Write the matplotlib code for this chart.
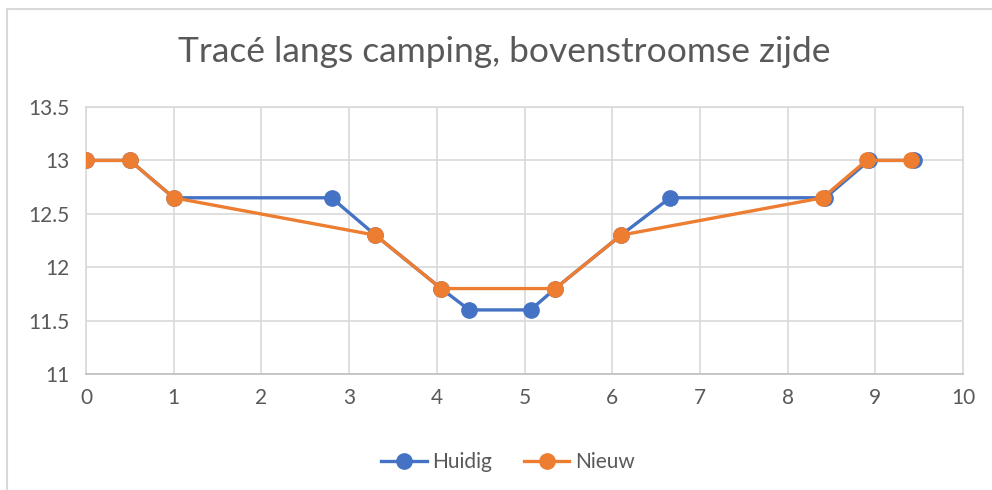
import matplotlib
matplotlib.use('Agg')
import matplotlib.pyplot as plt
from matplotlib.patches import Rectangle

# Huidig (current) profile
huidig_x = [0, 0.5, 1, 2.8, 3.3, 4.05, 4.37, 5.07, 5.35, 6.1, 6.66, 8.43, 8.93, 9.44]
huidig_y = [13, 13, 12.65, 12.65, 12.3, 11.8, 11.6, 11.6, 11.8, 12.3, 12.65, 12.65, 13, 13]

# Nieuw (new) profile
nieuw_x = [0, 0.5, 1, 3.3, 4.05, 5.35, 6.1, 8.4, 8.9, 9.41]
nieuw_y = [13, 13, 12.65, 12.3, 11.8, 11.8, 12.3, 12.65, 13, 13]

title = "Tracé langs camping, bovenstroomse zijde"
x_ticks = list(range(0, 11))
y_ticks = [11, 11.5, 12, 12.5, 13, 13.5]
y_labels = ["11", "11.5", "12", "12.5", "13", "13.5"]

plt.rcParams['font.family'] = ['Lato', 'DejaVu Sans']
text_color = '#595959'
grid_color = '#D9D9D9'

fig = plt.figure(figsize=(9.92, 4.9), dpi=100)
# chart frame (only top/left edges visible in the crop)
fig.patches.append(Rectangle((7 / 992, -1), 2, 2 - 9 / 490, transform=fig.transFigure,
                             fill=False, edgecolor=grid_color, linewidth=1.5))

ax = fig.add_axes([86 / 992, 1 - 374 / 490, (963 - 86) / 992, (374 - 107) / 490])

ax.plot(huidig_x, huidig_y, color='#4472C4', linewidth=2.4, marker='o',
        markersize=11, label='Huidig', zorder=3)
ax.plot(nieuw_x, nieuw_y, color='#ED7D31', linewidth=2.4, marker='o',
        markersize=11, label='Nieuw', zorder=4)

ax.set_xlim(0, 10)
ax.set_ylim(11, 13.5)
ax.set_xticks(x_ticks)
ax.set_yticks(y_ticks)
ax.set_yticklabels(y_labels)
ax.tick_params(length=0, labelsize=15, colors=text_color, pad=10)
ax.tick_params(axis='y', pad=12)
ax.grid(True, color=grid_color, linewidth=1.2)
ax.set_axisbelow(True)
for s in ax.spines.values():
    s.set_color(grid_color)
    s.set_linewidth(1.2)
ax.spines['bottom'].set_color('#BFBFBF')

fig.text(0.508, 1 - 52 / 490, title, ha='center', va='center',
         fontsize=25.5, color=text_color)

fig.legend(loc='center', bbox_to_anchor=(0.512, 1 - 462 / 490), ncol=2, frameon=False,
           fontsize=15, labelcolor=text_color, handlelength=2.2, handletextpad=0.25,
           columnspacing=1.5)

fig.savefig('out.png', dpi=100)
